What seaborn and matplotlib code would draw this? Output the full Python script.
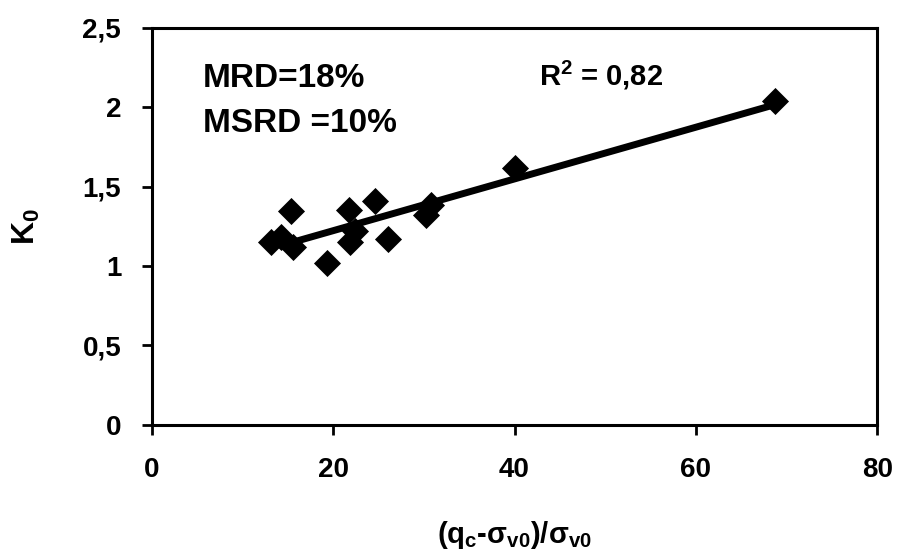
import numpy as np
import pandas as pd
import matplotlib
matplotlib.use('Agg')
import matplotlib.pyplot as plt
import seaborn as sns

sns.set_style('ticks')
plt.rcParams['font.family'] = ['Liberation Sans', 'DejaVu Sans']
plt.rcParams['mathtext.fontset'] = 'custom'
plt.rcParams['mathtext.rm'] = 'Liberation Sans'
plt.rcParams['mathtext.bf'] = 'Liberation Sans:bold'
plt.rcParams['mathtext.default'] = 'bf'
plt.rcParams['text.color'] = 'black'
plt.rcParams['xtick.color'] = 'black'
plt.rcParams['ytick.color'] = 'black'
plt.rcParams['axes.labelcolor'] = 'black'

# values
qc_norm = [13.2, 14.3, 15.3, 15.6, 19.3, 21.7, 21.9, 22.4, 24.6, 26.1, 30.2, 30.8, 40.1, 68.7]
k0 = [1.15, 1.18, 1.345, 1.12, 1.02, 1.355, 1.15, 1.22, 1.41, 1.17, 1.32, 1.385, 1.62, 2.04]
trend_range = [15.3, 68.7]

x_ticks = [0, 20, 40, 60, 80]
y_ticks = [0, 0.5, 1, 1.5, 2, 2.5]
y_ticklabels = ['0', '0,5', '1', '1,5', '2', '2,5']

df = pd.DataFrame({'x': qc_norm, 'y': k0})

fig = plt.figure(figsize=(8.98, 5.56), dpi=100)
ax = fig.add_axes([0.169, 0.236, 0.808, 0.714])

# linear trend line
slope, icpt = np.polyfit(df['x'], df['y'], 1)
xs = np.array(trend_range)
sns.lineplot(x=xs, y=slope * xs + icpt, color='black', linewidth=5, ax=ax)
sns.scatterplot(data=df, x='x', y='y', marker='D', s=190, color='black',
                edgecolor='black', linewidth=0, ax=ax, zorder=3)

ax.set_xlim(0, 80)
ax.set_ylim(0, 2.5)
ax.set_xticks(x_ticks)
ax.set_yticks(y_ticks)
ax.set_yticklabels(y_ticklabels)
ax.tick_params(labelsize=20, length=7, width=2, direction='out', color='black',
               labelcolor='black')
ax.tick_params(axis='x', pad=16)
ax.tick_params(axis='y', pad=15)
for lab in ax.get_xticklabels() + ax.get_yticklabels():
    lab.set_fontweight('bold')
for sp in ax.spines.values():
    sp.set_visible(True)
    sp.set_linewidth(2.2)
    sp.set_color('black')

ax.set_xlabel(r'(q$_c$-σ$_{v0}$)/σ$_{v0}$', fontsize=21, fontweight='bold', labelpad=26)
ax.set_ylabel(r'K$_0$', fontsize=23, fontweight='bold', labelpad=29)

ax.text(0.07, 0.851, 'MRD=18%', transform=ax.transAxes, fontsize=24, fontweight='bold')
ax.text(0.07, 0.738, 'MSRD =10%', transform=ax.transAxes, fontsize=24, fontweight='bold')
ax.text(0.534, 0.854, r'R$^2$ = 0,82', transform=ax.transAxes, fontsize=21, fontweight='bold')

plt.savefig('out.png', dpi=100)
plt.close()
